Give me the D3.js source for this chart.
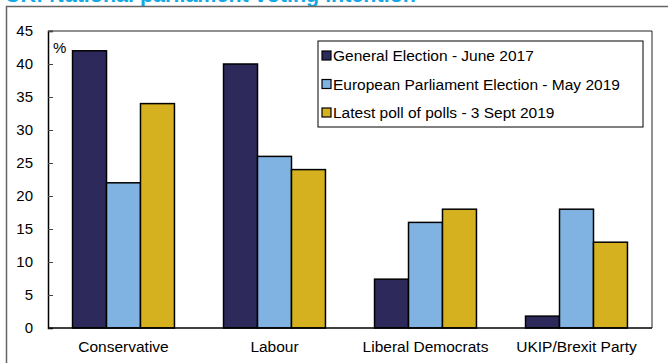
<!DOCTYPE html>
<html>
<head>
<meta charset="utf-8">
<script src="https://cdn.jsdelivr.net/npm/d3@7.9.0/dist/d3.min.js"></script>
<style>
  body { margin: 0; background: #fff; }
  svg { display: block; font-family: "Liberation Sans", Arial, sans-serif; }
</style>
</head>
<body>
<div id="chart"></div>
<script>
const categories = ['Conservative', 'Labour', 'Liberal Democrats', 'UKIP/Brexit Party'];
const seriesNames = ['General Election - June 2017', 'European Parliament Election - May 2019', 'Latest poll of polls - 3 Sept 2019'];
const generalElection2017 = [42, 40, 7.4, 1.8];
const euroElection2019 = [22, 26, 16, 18];
const pollOfPolls2019 = [34, 24, 18, 13];
const yTicks = [0, 5, 10, 15, 20, 25, 30, 35, 40, 45];
const colors = ['#2d2a5b', '#80b3e1', '#d5b11f'];

const series = [generalElection2017, euroElection2019, pollOfPolls2019];

const width = 668;
const height = 363;
const margin = { top: 31, right: 16, bottom: 35, left: 48 };

const svg = d3.select('#chart')
  .append('svg')
  .attr('width', width)
  .attr('height', height);

// title, cut off at the top like the source
svg.append('text')
  .attr('x', 5)
  .attr('y', 1.5)
  .attr('fill', '#13a9e6')
  .attr('font-weight', 'bold')
  .attr('font-size', 21.5)
  .text('UK: National parliament voting intention');

// outer frame
svg.append('path')
  .attr('d', `M6.5,${height + 2} V6.5 H${width + 2}`)
  .attr('fill', 'none')
  .attr('stroke', '#666')
  .attr('stroke-width', 1.5);

const x0 = d3.scaleBand()
  .domain(categories)
  .range([margin.left, width - margin.right])
  .paddingInner(0.325)
  .paddingOuter(0.1625);

const x1 = d3.scaleBand()
  .domain(d3.range(series.length))
  .range([0, x0.bandwidth()]);

const y = d3.scaleLinear()
  .domain([0, 45])
  .range([height - margin.bottom, margin.top]);

// plot frame (top/right)
svg.append('path')
  .attr('d', `M${margin.left},${margin.top} H${width - margin.right} V${height - margin.bottom}`)
  .attr('fill', 'none')
  .attr('stroke', '#222')
  .attr('stroke-width', 1);

const rows = categories.map((c, i) => ({ cat: c, vals: series.map(s => s[i]) }));

svg.append('g')
  .selectAll('g')
  .data(rows)
  .join('g')
  .attr('transform', d => `translate(${x0(d.cat)},0)`)
  .selectAll('rect')
  .data(d => d.vals.map((v, k) => ({ k, v })))
  .join('rect')
  .attr('x', d => x1(d.k))
  .attr('y', d => y(d.v))
  .attr('width', x1.bandwidth())
  .attr('height', d => y(0) - y(d.v))
  .attr('fill', d => colors[d.k])
  .attr('stroke', '#000')
  .attr('stroke-width', 1.5);

// y axis, ticks inward
const yAxis = svg.append('g')
  .attr('transform', `translate(${margin.left},0)`)
  .call(d3.axisRight(y).tickValues(yTicks).tickSize(5).tickFormat(d3.format('d')));
yAxis.select('.domain').attr('stroke', '#000').attr('stroke-width', 1.5);
yAxis.selectAll('.tick line').attr('stroke', '#444');
yAxis.selectAll('.tick text')
  .attr('x', -15)
  .attr('text-anchor', 'end')
  .attr('font-size', 15)
  .attr('fill', '#000')
  .attr('font-family', '"Liberation Sans", Arial, sans-serif');

// x axis
const xAxis = svg.append('g')
  .attr('transform', `translate(0,${height - margin.bottom})`)
  .call(d3.axisBottom(x0).tickSize(0).tickSizeOuter(0));
xAxis.select('.domain').attr('stroke', '#000').attr('stroke-width', 1.5)
  .attr('d', `M${margin.left},0H${width - margin.right}`);
xAxis.selectAll('.tick text')
  .attr('y', 13)
  .attr('font-size', 15.5)
  .attr('fill', '#000')
  .attr('font-family', '"Liberation Sans", Arial, sans-serif');

svg.append('text')
  .attr('x', 53)
  .attr('y', 53)
  .attr('font-size', 15)
  .text('%');

// legend
const lg = svg.append('g').attr('transform', 'translate(318,41)');
lg.append('rect')
  .attr('width', 325)
  .attr('height', 86)
  .attr('fill', '#fff')
  .attr('stroke', '#000')
  .attr('stroke-width', 1);
const items = lg.selectAll('g')
  .data(seriesNames)
  .join('g')
  .attr('transform', (d, i) => `translate(4,${14.5 + i * 28.5})`);
items.append('rect')
  .attr('x', 0)
  .attr('y', -4.5)
  .attr('width', 9)
  .attr('height', 9)
  .attr('fill', (d, i) => colors[i])
  .attr('stroke', '#000')
  .attr('stroke-width', 1.2);
items.append('text')
  .attr('x', 11)
  .attr('y', 5.5)
  .attr('font-size', 15.5)
  .text(d => d);
</script>
</body>
</html>
